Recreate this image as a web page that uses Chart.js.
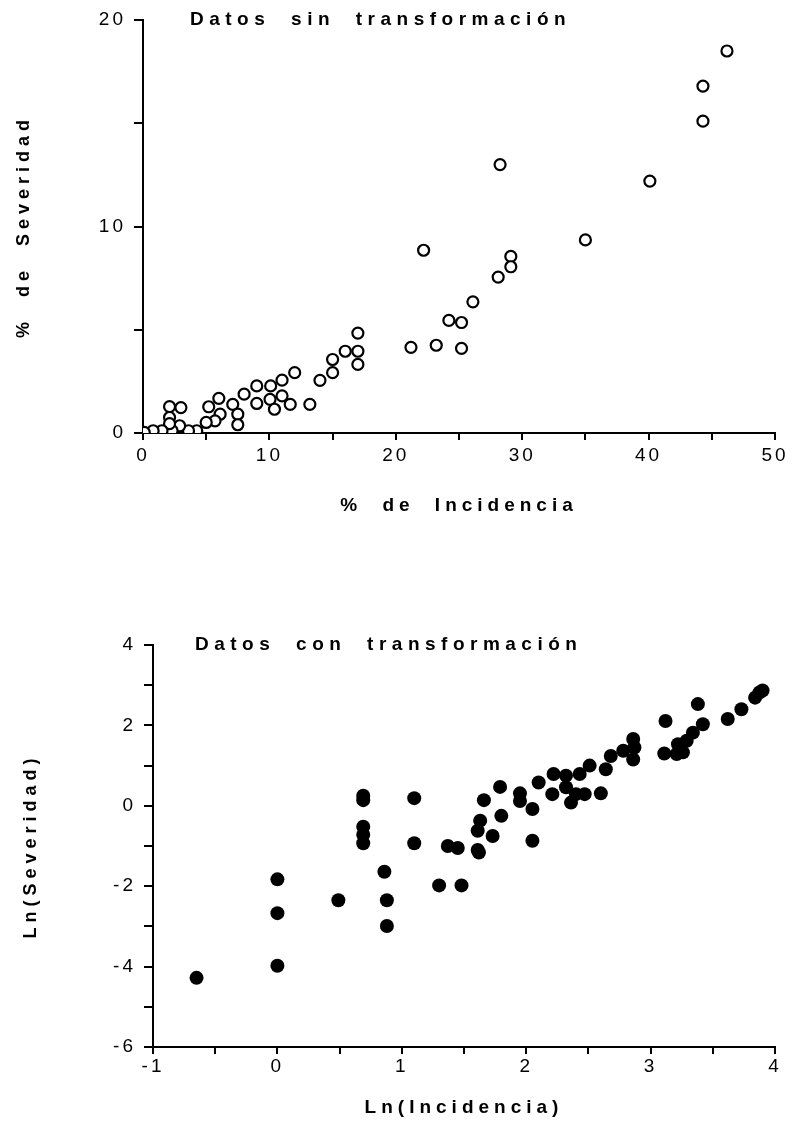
<!DOCTYPE html>
<html>
<head>
<meta charset="utf-8">
<script src="https://cdn.jsdelivr.net/npm/chart.js@4.4.1/dist/chart.umd.min.js"></script>
<style>
  html, body { margin: 0; padding: 0; background: #fff; }
  body { width: 794px; height: 1137px; position: relative; overflow: hidden; }
  .box { position: absolute; left: 0; }
  #c1wrap { top: 0; width: 794px; height: 540px; }
  #c2wrap { top: 560px; width: 794px; height: 577px; }
</style>
</head>
<body>
<div id="c1wrap" class="box"><canvas id="c1" width="794" height="540"></canvas></div>
<div id="c2wrap" class="box"><canvas id="c2" width="794" height="577"></canvas></div>
<script>
// ---------- Data: top chart (untransformed) ----------
const rawIncidencia = [46.2, 44.3, 44.3, 28.25, 40.1, 35.0, 22.2, 29.1, 29.1, 28.1, 26.1, 24.2, 25.2, 21.2, 23.2, 25.2,
  17.0, 17.0, 16.0, 15.0, 17.0, 15.0, 14.0, 12.0, 13.2, 11.0, 10.1, 9.0, 8.0, 9.0, 10.05, 11.0, 10.4, 11.65,
  7.1, 6.0, 5.2, 7.5, 7.5, 6.1, 5.7, 5.0, 4.25, 3.6, 2.9, 2.1, 3.0, 2.3, 2.1, 2.1, 1.5, 0.8, 0.1];
const rawSeveridad = [18.5, 16.8, 15.1, 13.0, 12.2, 9.35, 8.85, 8.55, 8.05, 7.55, 6.35, 5.45, 5.35, 4.15, 4.25, 4.1,
  4.84, 3.96, 3.96, 3.56, 3.32, 2.92, 2.55, 2.92, 1.39, 2.56, 2.28, 2.28, 1.88, 1.43, 1.63, 1.8, 1.15, 1.39,
  1.39, 1.68, 1.27, 0.91, 0.4, 0.91, 0.59, 0.51, 0.11, 0.11, 0.35, 1.28, 1.23, 0.11, 0.75, 0.45, 0.11, 0.11, 0.03];

// ---------- Data: bottom chart (log-transformed) ----------
const lnIncidencia = [-0.65, 0.0, 0.0, 0.0, 0.49, 0.69, 0.69, 0.69, 0.69, 0.69, 1.10, 1.10, 0.86, 0.88, 0.88, 1.30, 1.48,
  1.79, 1.66, 1.95, 1.95, 2.05, 2.10, 2.22, 2.21, 2.32, 2.32, 2.43, 2.51, 2.40, 2.36, 2.47, 2.60,
  1.80, 1.63, 1.61, 1.73, 2.05, 1.37, 1.45, 1.62, 1.61,
  2.64, 2.68, 2.78, 2.86, 2.87, 2.86, 3.11, 3.21, 3.26, 3.22, 3.29, 3.34, 3.42, 3.38, 3.12, 3.62, 3.73, 3.84, 3.875, 3.90];
const lnSeveridad = [-4.28, -1.83, -2.67, -3.98, -2.35, 0.25, 0.14, -0.52, -0.72, -0.93, 0.19, -0.93, -1.64, -2.35, -2.99, -1.98, -1.98,
  0.47, 0.14, 0.31, 0.12, -0.08, 0.58, 0.79, 0.29, 0.46, 0.75, 0.79, 1.0, 0.29, 0.08, 0.29, 0.31,
  -0.25, -0.37, -0.62, -0.75, -0.87, -1.0, -1.05, -1.16, -1.1,
  0.91, 1.24, 1.37, 1.66, 1.45, 1.15, 1.30, 1.29, 1.33, 1.53, 1.62, 1.82, 2.03, 2.53, 2.11, 2.16, 2.40, 2.69, 2.82, 2.87];

// ---------- Texts / ticks ----------
const title1 = 'Datos sin transformación';
const title2 = 'Datos con transformación';
const xTitle1 = '% de Incidencia';
const yTitle1 = '% de Severidad';
const xTitle2 = 'Ln(Incidencia)';
const yTitle2 = 'Ln(Severidad)';
const xTicks1 = [0, 10, 20, 30, 40, 50];
const yTicks1 = [0, 10, 20];
const xTicks2 = [-1, 0, 1, 2, 3, 4];
const yTicks2 = [-6, -4, -2, 0, 2, 4];

const FAMILY = "'Liberation Sans', Arial, Helvetica, sans-serif";

// Letter-spaced text, as in the original typewriter-like figure
function spaceText(canvas) {
  const ctx = canvas.getContext('2d');
  const orig = ctx.fillText.bind(ctx);
  ctx.fillText = function (text, x, y, maxWidth) {
    const bold = /bold|700/.test(ctx.font);
    if (ctx.__spacing) {
      ctx.letterSpacing = ctx.__spacing[0];
      ctx.wordSpacing = ctx.__spacing[1];
    } else {
      ctx.letterSpacing = bold ? '5px' : '3px';
      ctx.wordSpacing = bold ? '10px' : '0px';
    }
    orig(text, x, y);
  };
}

const innerTitle = {
  id: 'innerTitle',
  afterDraw(chart, args, opts) {
    const ctx = chart.ctx;
    const a = chart.chartArea;
    ctx.save();
    ctx.font = 'bold 19px ' + FAMILY;
    ctx.fillStyle = '#000';
    ctx.textAlign = 'left';
    ctx.textBaseline = 'middle';
    ctx.__spacing = ['5.5px', '10px'];
    ctx.fillText(opts.text, a.left + opts.dx, a.top);
    ctx.__spacing = null;
    ctx.restore();
  }
};

function makeOptions(cfg) {
  return {
    responsive: false,
    animation: false,
    events: [],
    layout: { padding: { left: 0, top: cfg.padTop, right: 19, bottom: 0 } },
    plugins: {
      legend: { display: false },
      tooltip: { enabled: false },
      innerTitle: { text: cfg.title, dx: cfg.titleDx }
    },
    scales: {
      x: {
        type: 'linear',
        min: cfg.xMin, max: cfg.xMax,
        afterFit: (s) => { s.height = cfg.xHeight; },
        afterBuildTicks: (s) => { s.ticks = cfg.xAll.map(v => ({ value: v })); },
        border: { display: true, color: '#000', width: 2 },
        grid: { display: true, drawOnChartArea: false, drawTicks: true, tickLength: 7, color: '#000', lineWidth: 2 },
        ticks: {
          autoSkip: false, maxRotation: 0, color: '#000', padding: cfg.xTickPad,
          font: { family: FAMILY, size: 19 },
          callback: (v) => cfg.xMajor.includes(v) ? String(v) : ''
        },
        title: {
          display: true, text: cfg.xTitle, color: '#000',
          font: { family: FAMILY, size: 19, weight: 'bold' },
          padding: { top: 0, bottom: cfg.xTitlePad }
        }
      },
      y: {
        type: 'linear',
        min: cfg.yMin, max: cfg.yMax,
        afterFit: (s) => { s.width = cfg.yWidth; },
        afterBuildTicks: (s) => { s.ticks = cfg.yAll.map(v => ({ value: v })); },
        border: { display: true, color: '#000', width: 2 },
        grid: { display: true, drawOnChartArea: false, drawTicks: true, tickLength: 9, color: '#000', lineWidth: 2 },
        ticks: {
          autoSkip: false, color: '#000', padding: cfg.yTickPad,
          font: { family: FAMILY, size: 19 },
          callback: (v) => cfg.yMajor.includes(v) ? String(v) : ''
        },
        title: {
          display: true, text: cfg.yTitle, color: '#000',
          font: { family: FAMILY, size: 18, weight: 'bold' },
          padding: { top: cfg.yTitlePad, bottom: 0 }
        }
      }
    }
  };
}

const c1 = document.getElementById('c1');
const c2 = document.getElementById('c2');
spaceText(c1);
spaceText(c2);

new Chart(c1, {
  type: 'scatter',
  data: {
    datasets: [{
      data: rawIncidencia.map((x, i) => ({ x: x, y: rawSeveridad[i] })),
      pointStyle: 'circle',
      pointRadius: 5.5,
      pointBorderWidth: 2.2,
      borderColor: '#000',
      backgroundColor: '#fff'
    }]
  },
  options: makeOptions({
    padTop: 20, title: title1, titleDx: 47,
    xMin: 0, xMax: 50, xHeight: 107, xAll: [0, 5, 10, 15, 20, 25, 30, 35, 40, 45, 50], xMajor: xTicks1,
    xTickPad: 4, xTitle: xTitle1, xTitlePad: 23,
    yMin: 0, yMax: 20, yWidth: 143, yAll: [0, 5, 10, 15, 20], yMajor: yTicks1,
    yTickPad: 8, yTitle: yTitle1, yTitlePad: 13
  }),
  plugins: [innerTitle]
});

new Chart(c2, {
  type: 'scatter',
  data: {
    datasets: [{
      data: lnIncidencia.map((x, i) => ({ x: x, y: lnSeveridad[i] })),
      pointStyle: 'circle',
      pointRadius: 7,
      pointBorderWidth: 0,
      borderColor: '#000',
      backgroundColor: '#000'
    }]
  },
  options: makeOptions({
    padTop: 85, title: title2, titleDx: 42,
    xMin: -1, xMax: 4, xHeight: 90, xAll: [-1, -0.5, 0, 0.5, 1, 1.5, 2, 2.5, 3, 3.5, 4], xMajor: xTicks2,
    xTickPad: 1, xTitle: xTitle2, xTitlePad: 18,
    yMin: -6, yMax: 4, yWidth: 153, yAll: [-6, -5, -4, -3, -2, -1, 0, 1, 2, 3, 4], yMajor: yTicks2,
    yTickPad: 8, yTitle: yTitle2, yTitlePad: 20
  }),
  plugins: [innerTitle]
});
</script>
</body>
</html>
